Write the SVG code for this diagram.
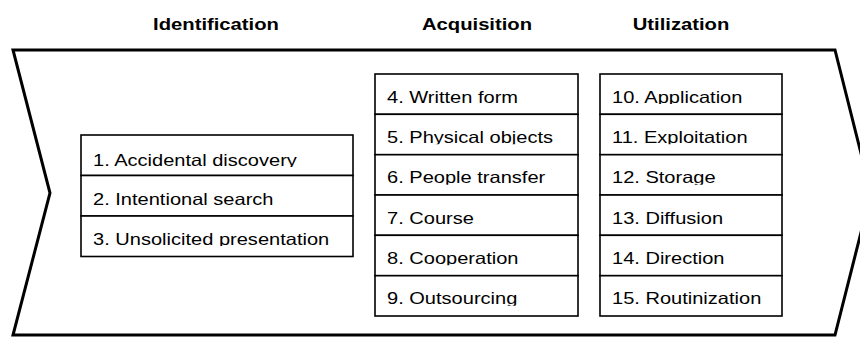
<svg xmlns="http://www.w3.org/2000/svg" width="860" height="337" viewBox="0 0 860 337">
  <style>
    .frame { fill: #ffffff; stroke: #000000; stroke-width: 3; stroke-linejoin: miter; }
    .cell { fill: #ffffff; stroke: #000000; stroke-width: 1.6; }
    .title { font-family: "Liberation Sans", Arial, sans-serif; font-size: 17px; font-weight: bold; fill: #000000; text-anchor: middle; }
    .item { font-family: "Liberation Sans", Arial, sans-serif; font-size: 16.3px; fill: #000000; }
  </style>
  <defs>
    <!-- each row crops its label just below the baseline -->
    <clipPath id="c1" clipPathUnits="userSpaceOnUse"><rect x="81" y="135" width="272" height="32"/></clipPath>
    <clipPath id="c2" clipPathUnits="userSpaceOnUse"><rect x="81" y="175.5" width="272" height="31"/></clipPath>
    <clipPath id="c3" clipPathUnits="userSpaceOnUse"><rect x="81" y="216" width="272" height="30"/></clipPath>
    <clipPath id="c4" clipPathUnits="userSpaceOnUse"><rect x="375" y="74" width="203" height="30"/></clipPath>
    <clipPath id="c5" clipPathUnits="userSpaceOnUse"><rect x="375" y="114.3" width="203" height="30"/></clipPath>
    <clipPath id="c6" clipPathUnits="userSpaceOnUse"><rect x="375" y="154.7" width="203" height="30"/></clipPath>
    <clipPath id="c7" clipPathUnits="userSpaceOnUse"><rect x="375" y="195" width="203" height="30"/></clipPath>
    <clipPath id="c8" clipPathUnits="userSpaceOnUse"><rect x="375" y="235.3" width="203" height="30"/></clipPath>
    <clipPath id="c9" clipPathUnits="userSpaceOnUse"><rect x="375" y="275.7" width="203" height="30"/></clipPath>
    <clipPath id="c10" clipPathUnits="userSpaceOnUse"><rect x="600" y="74" width="182" height="30"/></clipPath>
    <clipPath id="c11" clipPathUnits="userSpaceOnUse"><rect x="600" y="114.3" width="182" height="30"/></clipPath>
    <clipPath id="c12" clipPathUnits="userSpaceOnUse"><rect x="600" y="154.7" width="182" height="30"/></clipPath>
    <clipPath id="c13" clipPathUnits="userSpaceOnUse"><rect x="600" y="195" width="182" height="30"/></clipPath>
    <clipPath id="c14" clipPathUnits="userSpaceOnUse"><rect x="600" y="235.3" width="182" height="30"/></clipPath>
    <clipPath id="c15" clipPathUnits="userSpaceOnUse"><rect x="600" y="275.7" width="182" height="30"/></clipPath>
  </defs>

  <!-- chevron-shaped process frame -->
  <g id="process-frame">
    <polygon class="frame" points="13,50 835,50 871,193 835,335 13,335 50,193"/>
  </g>

  <!-- phase headings -->
  <g id="heading-identification"><text class="title" transform="matrix(1.19 0 0 1 216 29.5)">Identification</text></g>
  <g id="heading-acquisition"><text class="title" transform="matrix(1.19 0 0 1 477 29.5)">Acquisition</text></g>
  <g id="heading-utilization"><text class="title" transform="matrix(1.19 0 0 1 681 29.5)">Utilization</text></g>

  <!-- identification column -->
  <g id="identification">
    <g id="item-1"><rect class="cell" x="81" y="135" width="272" height="40.5"/>
      <g clip-path="url(#c1)"><text class="item" transform="matrix(1.23 0 0 1 93 165.5)">1. Accidental discovery</text></g></g>
    <g id="item-2"><rect class="cell" x="81" y="175.5" width="272" height="40.5"/>
      <g clip-path="url(#c2)"><text class="item" transform="matrix(1.23 0 0 1 93 205)">2. Intentional search</text></g></g>
    <g id="item-3"><rect class="cell" x="81" y="216" width="272" height="40.5"/>
      <g clip-path="url(#c3)"><text class="item" transform="matrix(1.23 0 0 1 93 244.5)">3. Unsolicited presentation</text></g></g>
  </g>

  <!-- acquisition column -->
  <g id="acquisition">
    <g id="item-4"><rect class="cell" x="375" y="74" width="203" height="40.3"/>
      <g clip-path="url(#c4)"><text class="item" transform="matrix(1.23 0 0 1 387 102.5)">4. Written form</text></g></g>
    <g id="item-5"><rect class="cell" x="375" y="114.3" width="203" height="40.4"/>
      <g clip-path="url(#c5)"><text class="item" transform="matrix(1.23 0 0 1 387 142.8)">5. Physical objects</text></g></g>
    <g id="item-6"><rect class="cell" x="375" y="154.7" width="203" height="40.3"/>
      <g clip-path="url(#c6)"><text class="item" transform="matrix(1.23 0 0 1 387 183.2)">6. People transfer</text></g></g>
    <g id="item-7"><rect class="cell" x="375" y="195" width="203" height="40.3"/>
      <g clip-path="url(#c7)"><text class="item" transform="matrix(1.23 0 0 1 387 223.5)">7. Course</text></g></g>
    <g id="item-8"><rect class="cell" x="375" y="235.3" width="203" height="40.4"/>
      <g clip-path="url(#c8)"><text class="item" transform="matrix(1.23 0 0 1 387 263.8)">8. Cooperation</text></g></g>
    <g id="item-9"><rect class="cell" x="375" y="275.7" width="203" height="40.3"/>
      <g clip-path="url(#c9)"><text class="item" transform="matrix(1.23 0 0 1 387 304.2)">9. Outsourcing</text></g></g>
  </g>

  <!-- utilization column -->
  <g id="utilization">
    <g id="item-10"><rect class="cell" x="600" y="74" width="182" height="40.3"/>
      <g clip-path="url(#c10)"><text class="item" transform="matrix(1.23 0 0 1 612 102.5)">10. Application</text></g></g>
    <g id="item-11"><rect class="cell" x="600" y="114.3" width="182" height="40.4"/>
      <g clip-path="url(#c11)"><text class="item" transform="matrix(1.23 0 0 1 612 142.8)">11. Exploitation</text></g></g>
    <g id="item-12"><rect class="cell" x="600" y="154.7" width="182" height="40.3"/>
      <g clip-path="url(#c12)"><text class="item" transform="matrix(1.23 0 0 1 612 183.2)">12. Storage</text></g></g>
    <g id="item-13"><rect class="cell" x="600" y="195" width="182" height="40.3"/>
      <g clip-path="url(#c13)"><text class="item" transform="matrix(1.23 0 0 1 612 223.5)">13. Diffusion</text></g></g>
    <g id="item-14"><rect class="cell" x="600" y="235.3" width="182" height="40.4"/>
      <g clip-path="url(#c14)"><text class="item" transform="matrix(1.23 0 0 1 612 263.8)">14. Direction</text></g></g>
    <g id="item-15"><rect class="cell" x="600" y="275.7" width="182" height="40.3"/>
      <g clip-path="url(#c15)"><text class="item" transform="matrix(1.23 0 0 1 612 304.2)">15. Routinization</text></g></g>
  </g>

  <!-- no connectors in this figure -->
  <g id="connectors"/>
</svg>
